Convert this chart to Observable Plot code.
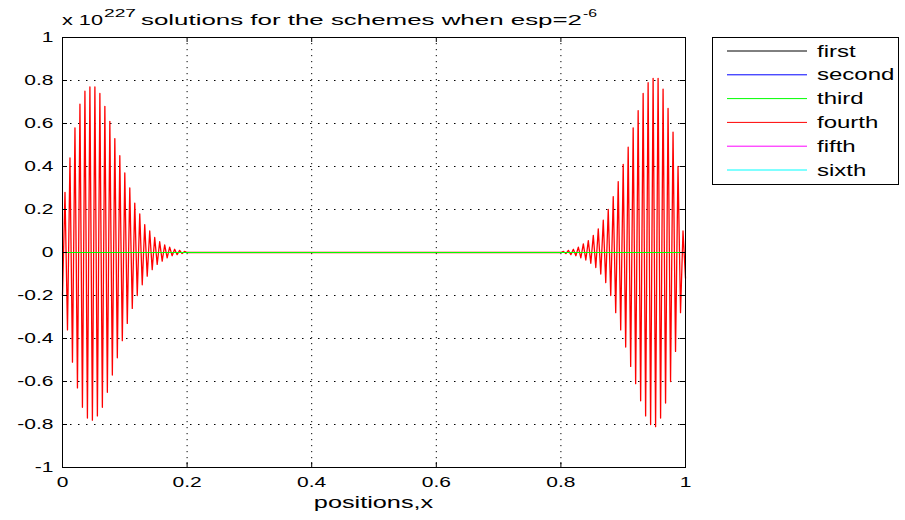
<!DOCTYPE html>
<html>
<head>
<meta charset="utf-8">
<script src="https://cdn.jsdelivr.net/npm/d3@7"></script>
<script src="https://cdn.jsdelivr.net/npm/@observablehq/plot@0.6"></script>
<style>
  html, body { margin: 0; padding: 0; background: #fff; }
  svg { display: block; }
</style>
</head>
<body>
<div id="chart"></div>
<script>
// ---------- data ----------
const seriesNames  = ["first", "second", "third", "fourth", "fifth", "sixth"];
const seriesColors = ["#000000", "#0000ff", "#00ff00", "#ff0000", "#ff00ff", "#00ffff"];

const xTicks      = [0, 0.2, 0.4, 0.6, 0.8, 1];
const xTickLabels = ["0", "0.2", "0.4", "0.6", "0.8", "1"];
const yTicks      = [-1, -0.8, -0.6, -0.4, -0.2, 0, 0.2, 0.4, 0.6, 0.8, 1];
const yTickLabels = ["-1", "-0.8", "-0.6", "-0.4", "-0.2", "0", "0.2", "0.4", "0.6", "0.8", "1"];

// grid of the oscillating (fourth) solution: crests every 0.008, troughs in between
const crestStep = 0.008;
const leftTroughStart = 0.000, leftCrestStart = 0.004;
const rightTroughStart = 0.800, rightCrestStart = 0.804;

// fourth scheme, values (x 10^227)
const leftCrests   = [0.28, 0.44, 0.58, 0.69, 0.75, 0.77, 0.77, 0.74, 0.68, 0.61, 0.53, 0.45, 0.37,
                      0.30, 0.23, 0.18, 0.13, 0.10, 0.07, 0.05, 0.035, 0.025, 0.015, 0.01, 0.005];
const leftTroughs  = [-0.20, -0.36, -0.51, -0.63, -0.72, -0.77, -0.78, -0.76, -0.72, -0.65, -0.57, -0.49, -0.41,
                      -0.33, -0.26, -0.20, -0.15, -0.11, -0.08, -0.055, -0.04, -0.025, -0.015, -0.01, -0.005, 0];
const rightCrests  = [0.005, 0.01, 0.015, 0.025, 0.04, 0.055, 0.08, 0.11, 0.15, 0.20, 0.26, 0.33, 0.41,
                      0.49, 0.58, 0.66, 0.74, 0.79, 0.81, 0.81, 0.76, 0.67, 0.56, 0.40, 0.10];
const rightTroughs = [0, -0.005, -0.01, -0.015, -0.025, -0.035, -0.05, -0.07, -0.10, -0.14, -0.20, -0.28, -0.36,
                      -0.44, -0.53, -0.61, -0.69, -0.76, -0.80, -0.81, -0.77, -0.70, -0.60, -0.46, -0.28, -0.12];

// the other schemes stay at zero over the whole interval
const flatX = [0, 1];
const flatY = [0, 0];

// ---------- tables ----------
const fourth = [];
leftTroughs.forEach((v, k) => fourth.push({x: leftTroughStart + k * crestStep, y: v}));
leftCrests.forEach((v, k) => fourth.push({x: leftCrestStart + k * crestStep, y: v}));
rightTroughs.forEach((v, k) => fourth.push({x: rightTroughStart + k * crestStep, y: v}));
rightCrests.forEach((v, k) => fourth.push({x: rightCrestStart + k * crestStep, y: v}));
fourth.sort((a, b) => a.x - b.x);

const flat = flatX.map((x, i) => ({x, y: flatY[i]}));

const xLabel = new Map(xTicks.map((t, i) => [t, xTickLabels[i]]));
const yLabel = new Map(yTicks.map((t, i) => [t, yTickLabels[i]]));

// ---------- layout ----------
const W = 905, H = 520;
const mL = 62, mR = 220, mT = 37, mB = 53;
const plotW = W - mL - mR, plotH = H - mT - mB;
const font = "'Liberation Sans', Arial, Helvetica, sans-serif";
const stretch = 1.5;

const zeroMarks = [0, 1, 4, 5].map(i =>
  Plot.line(flat, {x: "x", y: "y", stroke: seriesColors[i], strokeWidth: 1}));

const svg = Plot.plot({
  width: W, height: H,
  marginLeft: mL, marginRight: mR, marginTop: mT, marginBottom: mB,
  x: {domain: [0, 1], label: null},
  y: {domain: [-1, 1], label: null},
  style: {fontFamily: font, fontSize: "14px", color: "#000", background: "#fff", overflow: "visible"},
  marks: [
    Plot.gridX(xTicks.slice(1, -1), {stroke: "#000", strokeOpacity: 1, strokeWidth: 1, strokeDasharray: "1.2,4.8"}),
    Plot.gridY(yTicks.slice(1, -1), {stroke: "#000", strokeOpacity: 1, strokeWidth: 1, strokeDasharray: "1.5,6.5"}),
    ...zeroMarks,
    Plot.line(fourth, {x: "x", y: "y", stroke: seriesColors[3], strokeWidth: 1.3}),
    Plot.line(flat, {x: "x", y: "y", stroke: seriesColors[2], strokeWidth: 1}),
    Plot.frame({stroke: "#000", strokeWidth: 1}),
    Plot.tickX(xTicks, {x: d => d, insetTop: plotH - 5, stroke: "#000"}),
    Plot.tickX(xTicks, {x: d => d, insetBottom: plotH - 5, stroke: "#000"}),
    Plot.tickY(yTicks, {y: d => d, insetRight: plotW - 5, stroke: "#000"}),
    Plot.tickY(yTicks, {y: d => d, insetLeft: plotW - 5, stroke: "#000"}),
    Plot.axisX(xTicks, {tickSize: 0, tickPadding: 10, tickFormat: d => xLabel.get(d), label: null, fontSize: 14}),
    Plot.axisY(yTicks, {tickSize: 0, tickPadding: 9, tickFormat: d => yLabel.get(d), label: null, fontSize: 14})
  ]
});

// stretch every glyph horizontally around its anchor, as in the reference
svg.querySelectorAll("text").forEach(t => {
  const tr = t.getAttribute("transform") || "";
  t.setAttribute("transform", tr + ` scale(${stretch},1)`);
});

const s = d3.select(svg);

// title pieces (glyphs stretched to the widths seen in the reference)
const titleParts = [
  {text: "x 10", x: 62, y: 25, size: 15, len: 41},
  {text: "227", x: 104, y: 17, size: 11, len: 32},
  {text: "solutions for the schemes when esp=2", x: 141, y: 25, size: 15, len: 441},
  {text: "-6", x: 583, y: 17, size: 11, len: 14}
];
titleParts.forEach(p => {
  s.append("text")
    .attr("x", p.x).attr("y", p.y)
    .attr("text-anchor", "start")
    .attr("font-family", font).attr("font-size", p.size).attr("fill", "#000")
    .attr("textLength", p.len).attr("lengthAdjust", "spacingAndGlyphs")
    .text(p.text);
});

// x axis label
s.append("text")
  .attr("transform", `translate(${mL + plotW / 2},508) scale(1.58,1)`)
  .attr("text-anchor", "middle")
  .attr("font-family", font).attr("font-size", 16).attr("fill", "#000")
  .text("positions,x");

// legend
const lg = s.append("g");
lg.append("rect").attr("x", 712.5).attr("y", 37.5).attr("width", 186).attr("height", 147)
  .attr("fill", "#fff").attr("stroke", "#000").attr("stroke-width", 1);
seriesNames.forEach((name, i) => {
  const y = 51 + i * 23.8;
  lg.append("line").attr("x1", 727).attr("x2", 807).attr("y1", y).attr("y2", y)
    .attr("stroke", seriesColors[i]).attr("stroke-width", 1);
  lg.append("text")
    .attr("transform", `translate(817,${y + 5.5}) scale(${stretch},1)`)
    .attr("text-anchor", "start")
    .attr("font-family", font).attr("font-size", 16).attr("fill", "#000")
    .text(name);
});

document.getElementById("chart").appendChild(svg);
</script>
</body>
</html>
